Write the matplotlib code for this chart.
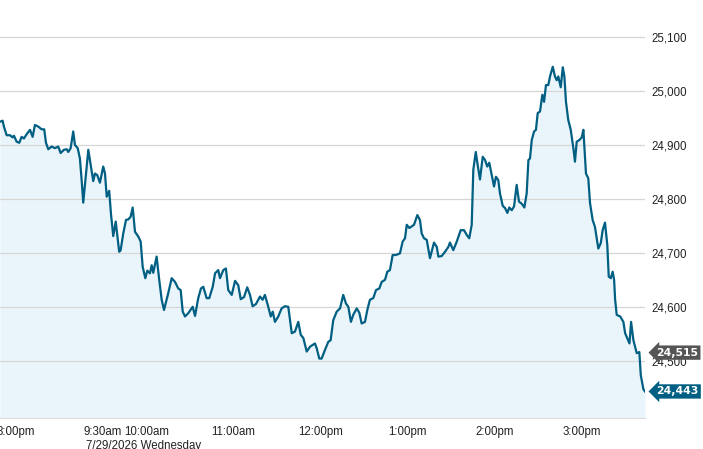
import matplotlib
matplotlib.use("Agg")
import matplotlib.pyplot as plt
import matplotlib.transforms as mtransforms

plt.rcParams['font.family'] = ['Liberation Sans', 'DejaVu Sans']

# minutes from previous-day 3:00pm on a continuous session axis (prev 4:00pm == 9:30am)
minutes = [
    -11.0, -9.2, -8.3, -6.4, -4.1, -2.3, -1.4, 0.5, 2.3, 3.9,
    5.5, 7.4, 9.7, 11.5, 13.1, 15.4, 17.7, 19.5, 20.7, 22.3,
    24.6, 26.9, 29.2, 30.8, 33.1, 35.0, 36.1, 37.7, 39.5, 40.7,
    42.6, 44.1, 45.3, 46.4, 48.1, 49.9, 51.0, 53.3, 54.5, 56.1,
    57.9, 60.2, 61.4, 62.6, 64.3, 65.5, 67.1, 68.8, 71.2, 72.2,
    74.0, 75.9, 77.5, 79.1, 80.5, 82.1, 84.4, 86.0, 87.4, 89.2,
    90.6, 92.4, 93.6, 94.7, 97.0, 98.8, 100.5, 102.1, 105.0, 107.4,
    109.7, 111.9, 113.6, 115.0, 116.6, 118.8, 121.9, 123.5, 125.7, 127.6,
    129.2, 131.5, 133.3, 135.7, 137.3, 139.5, 140.7, 143.0, 144.8, 146.4,
    148.8, 151.1, 153.3, 155.0, 157.3, 159.5, 161.4, 163.2, 165.5, 168.3,
    170.1, 171.7, 174.0, 175.7, 177.1, 178.6, 180.9, 183.2, 185.5, 187.8,
    190.2, 192.4, 194.7, 196.4, 198.2, 200.5, 202.8, 206.2, 207.4, 209.2,
    210.8, 213.1, 215.4, 217.0, 218.8, 221.2, 223.5, 225.7, 227.6, 229.2,
    231.0, 232.6, 235.0, 236.8, 238.4, 240.7, 242.3, 244.1, 246.4, 248.3,
    250.6, 252.2, 254.5, 256.1, 257.9, 259.8, 262.1, 264.8, 266.7, 268.3,
    269.5, 271.3, 272.9, 274.5, 276.8, 278.6, 279.8, 281.4, 283.3, 285.5,
    288.3, 290.2, 291.3, 293.6, 295.9, 298.2, 299.3, 301.6, 304.0, 306.7,
    309.0, 310.9, 312.6, 314.3, 315.4, 317.1, 318.4, 320.0, 321.9, 323.5,
    325.0, 326.4, 328.1, 329.7, 331.0, 332.6, 333.8, 335.7, 337.3, 338.9,
    340.2, 341.9, 343.5, 345.3, 346.9, 348.8, 350.6, 352.2, 353.4, 354.5,
    355.7, 357.3, 358.6, 359.8, 361.4, 363.0, 364.2, 365.5, 367.1, 368.3,
    370.2, 371.7, 372.9, 374.0, 375.7, 377.1, 378.2, 379.3, 380.9, 382.6,
    384.4, 385.5, 386.7, 388.5, 390.2, 391.3, 393.1, 394.7, 395.9, 397.7,
    399.3, 401.6, 403.3, 404.6, 406.2, 407.8, 408.8, 410.2, 411.5, 412.5,
    413.2, 414.3, 416.7, 418.9, 420.1, 423.1, 424.2, 425.8, 428.1, 429.9,
    430.9, 432.7, 433.8,
]

index_values = [
    24943, 24945, 24934, 24918, 24918, 24914, 24917, 24906, 24904, 24915,
    24912, 24920, 24928, 24915, 24937, 24934, 24929, 24929, 24904, 24892,
    24897, 24894, 24897, 24885, 24891, 24892, 24887, 24894, 24925, 24900,
    24894, 24875, 24835, 24793, 24841, 24891, 24872, 24833, 24847, 24844,
    24830, 24860, 24847, 24804, 24815, 24773, 24731, 24758, 24702, 24705,
    24736, 24761, 24762, 24767, 24784, 24739, 24730, 24721, 24674, 24653,
    24667, 24662, 24677, 24663, 24693, 24650, 24613, 24594, 24625, 24653,
    24646, 24634, 24631, 24591, 24582, 24588, 24600, 24583, 24616, 24634,
    24637, 24616, 24616, 24637, 24662, 24668, 24653, 24668, 24671, 24631,
    24622, 24648, 24640, 24614, 24618, 24636, 24622, 24601, 24605, 24619,
    24613, 24622, 24600, 24582, 24591, 24572, 24582, 24597, 24601, 24600,
    24551, 24554, 24572, 24548, 24542, 24517, 24526, 24532, 24523, 24504,
    24504, 24520, 24535, 24538, 24575, 24591, 24597, 24622, 24606, 24600,
    24572, 24585, 24597, 24589, 24569, 24572, 24594, 24613, 24616, 24631,
    24634, 24646, 24650, 24665, 24668, 24696, 24696, 24699, 24721, 24727,
    24752, 24746, 24749, 24752, 24770, 24761, 24736, 24727, 24724, 24690,
    24719, 24711, 24693, 24694, 24702, 24711, 24719, 24705, 24721, 24742,
    24742, 24733, 24727, 24752, 24854, 24887, 24863, 24836, 24878, 24872,
    24860, 24867, 24844, 24823, 24841, 24835, 24810, 24787, 24783, 24774,
    24784, 24779, 24786, 24826, 24795, 24791, 24784, 24810, 24872, 24875,
    24909, 24925, 24928, 24959, 24962, 24993, 24980, 25011, 25011, 25027,
    25045, 25027, 25020, 25027, 25007, 25044, 25027, 24980, 24946, 24928,
    24894, 24869, 24906, 24909, 24914, 24928, 24847, 24838, 24792, 24761,
    24748, 24708, 24718, 24742, 24756, 24715, 24656, 24653, 24665, 24650,
    24613, 24585, 24582, 24572, 24551, 24532, 24572, 24538, 24514, 24516,
    24473, 24447, 24443,
]

xtick_pos = [0, 60, 90, 150, 210, 270, 330, 390]
xtick_labels = ['3:00pm', '9:30am', '10:00am', '11:00am', '12:00pm', '1:00pm', '2:00pm', '3:00pm']
ytick_vals = [24500, 24600, 24700, 24800, 24900, 25000, 25100]
date_label = '7/29/2026 Wednesday'
date_label_x = 48.3
ref_value = 24515
last_value = index_values[-1]

LINE = '#005f82'
FILL = '#eaf5fb'

W, H = 703, 449
fig = plt.figure(figsize=(W / 100, H / 100), dpi=100)
ax = fig.add_axes([0, 1 - 418 / H, 645 / W, 418 / H])

ymin, ymax = 24393.8, 25168.7
ax.fill_between(minutes, index_values, ymin, color=FILL, lw=0, zorder=1)
ax.plot(minutes, index_values, color=LINE, lw=1.6, zorder=3, solid_joinstyle='round')

ax.set_xlim(-11.0, 433.8)
ax.set_ylim(ymin, ymax)

ax.set_axisbelow(False)
ax.yaxis.grid(True, color='#d6d6d6', lw=0.9)
ax.xaxis.grid(False)
for gl in ax.get_ygridlines():
    gl.set_zorder(2)

ax.yaxis.tick_right()
ax.set_yticks(ytick_vals)
ax.set_yticklabels([f'{v:,}' for v in ytick_vals])
ax.tick_params(axis='y', length=0, pad=4.3, labelsize=8.3, labelcolor='#222222')

ax.set_xticks(xtick_pos)
ax.set_xticklabels(xtick_labels)
ax.tick_params(axis='x', length=0, pad=5.5, labelsize=8.3, labelcolor='#222222')

for s in ['top', 'left', 'right']:
    ax.spines[s].set_visible(False)
ax.spines['bottom'].set_color('#dcdcdc')
ax.spines['bottom'].set_linewidth(0.8)

ax.annotate(date_label, xy=(date_label_x, 0), xycoords=('data', 'axes fraction'),
            xytext=(0, -15.5), textcoords='offset points', ha='left', va='top',
            fontsize=8.3, color='#222222', annotation_clip=False)

trans = mtransforms.blended_transform_factory(ax.transAxes, ax.transData)
for val, col in [(ref_value, '#555555'), (last_value, LINE)]:
    ax.text(1.0175, val, f'{val:,}', transform=trans, ha='left', va='center',
            fontsize=7.8, fontweight='bold', color='white', zorder=10, clip_on=False,
            family='DejaVu Sans',
            bbox=dict(boxstyle='larrow,pad=0.2', fc=col, ec='none'))

fig.savefig('out.png', dpi=100)
